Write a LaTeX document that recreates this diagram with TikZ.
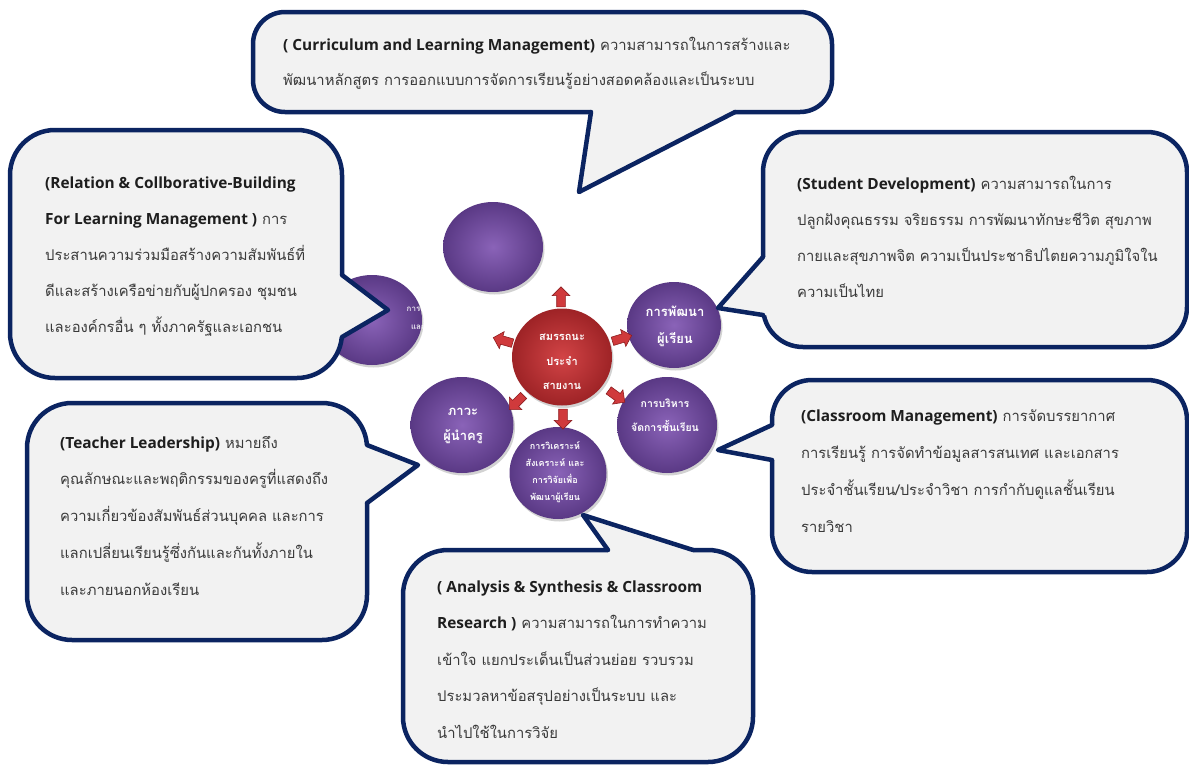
\documentclass[tikz,border=0pt]{standalone}
\usepackage{fontspec}
\newfontfamily\thai[Script=Thai]{Loma}
\newfontfamily\eng{Open Sans}
\usetikzlibrary{shapes.geometric,shapes.arrows,shadows}
\definecolor{navy}{HTML}{0B2461}
\definecolor{boxfill}{HTML}{F2F2F2}
\definecolor{txtgray}{HTML}{3A3A3A}
\definecolor{txtdark}{HTML}{1E1E1E}
\definecolor{purpin}{HTML}{8A63B8}
\definecolor{purpout}{HTML}{5A3985}
\definecolor{redin}{HTML}{D24446}
\definecolor{redout}{HTML}{9E2326}
\definecolor{arrred}{HTML}{D03A3C}
\definecolor{arrdark}{HTML}{8E1D1F}
\tikzset{
  callbox/.style={draw=navy, line width=4.5pt, fill=boxfill, inner sep=0pt},
  callfill/.style={fill=boxfill},
  callline/.style={draw=navy, line width=4.5pt, line cap=round, line join=round},
  calltext/.style={anchor=base west, align=left, inner sep=0pt, text=txtgray},
  bubble/.style={ellipse, inner sep=0pt, shading=radial, inner color=purpin, outer color=purpout,
    drop shadow={shadow xshift=1.5pt, shadow yshift=-2.5pt, opacity=.35}},
  redbubble/.style={ellipse, inner sep=0pt, shading=radial, inner color=redin, outer color=redout,
    drop shadow={shadow xshift=1.5pt, shadow yshift=-2.5pt, opacity=.35}},
  bubtext/.style={align=center, inner sep=0pt, text=white},
  blockarrow/.style={single arrow, draw=arrdark, line width=0.6pt, fill=arrred,
    minimum height=20pt, inner xsep=0pt, inner ysep=4pt, single arrow head extend=4.5pt,
    single arrow head indent=0pt}
}
\newcommand{\tf}[1]{\thai\fontsize{14.8pt}{#1}\selectfont}
\newcommand{\eb}[1]{{\eng\bfseries\fontsize{15.4pt}{15pt}\selectfont\textcolor{txtdark}{#1}}}
\begin{document}
\begin{tikzpicture}[x=1pt,y=-1pt]
\useasboundingbox (0,0) rectangle (1189,766);
\fill[white] (0,0) rectangle (1189,766);

% ---------- bubbles ----------
\node[bubble, minimum width=100pt, minimum height=90pt] (ctop) at (493,247) {};
\node[bubble, minimum width=100pt, minimum height=90pt] (cleft) at (372,320) {};
\node[bubtext, font=\thai\bfseries\fontsize{8pt}{18pt}\selectfont, opacity=.85] (tleft) at (445,327)
  {การสร้างความสัมพันธ์\\และความร่วมมือกับ\\ชุมชน};
\node[redbubble, minimum width=100pt, minimum height=97pt] (ccenter) at (562,357) {};
\node[bubble, minimum width=94pt, minimum height=86pt] (crt) at (674,325) {};
\node[bubble, minimum width=100pt, minimum height=96pt] (crb) at (667,425) {};
\node[bubble, minimum width=97pt, minimum height=92pt] (cbot) at (558,473) {};
\node[bubble, minimum width=103pt, minimum height=96pt] (clb) at (462,425) {};

\node[bubtext, font=\thai\bfseries\fontsize{11pt}{24.5pt}\selectfont] (tcenter) at (562,362) {สมรรถนะ\\ประจำ\\สายงาน};
\node[bubtext, font=\thai\bfseries\fontsize{13pt}{27pt}\selectfont] (trt) at (675,326) {การพัฒนา\\ผู้เรียน};
\node[bubtext, font=\thai\bfseries\fontsize{10.5pt}{24pt}\selectfont] (trb) at (665,415) {การบริหาร\\จัดการชั้นเรียน};
\node[bubtext, font=\thai\bfseries\fontsize{9pt}{17pt}\selectfont] (tbot) at (555,472) {การวิเคราะห์\\สังเคราะห์ และ\\การวิจัยเพื่อ\\พัฒนาผู้เรียน};
\node[bubtext, font=\thai\bfseries\fontsize{13pt}{25pt}\selectfont] (tlb) at (463,426) {ภาวะ\\ผู้นำครู};

% ---------- arrows ----------
\node[blockarrow, rotate=90] (aup) at (561,299) {};
\node[blockarrow, rotate=17] (aru) at (620,339) {};
\node[blockarrow, rotate=164] (alu) at (505,341) {};
\node[blockarrow, rotate=-36] (ard) at (615,395) {};
\node[blockarrow, rotate=-90] (adn) at (563,417) {};
\node[blockarrow, rotate=-135] (ald) at (518,401) {};

% ---------- top callout ----------
\node[callbox, rounded corners=32pt, minimum width=579pt, minimum height=100pt] (topbox) at (542.5,62) {};
\coordinate (topP1) at (591,112); \coordinate (topTip) at (579,192); \coordinate (topP2) at (735,112);
\fill[callfill] ([yshift=5pt]topP1) -- (topP1) -- (topTip) -- (topP2) -- ([yshift=5pt]topP2) -- cycle;
\draw[callline] (topP1) -- (topTip) -- (topP2);
\node[calltext, font=\tf{35pt}] (toptext) at (283,85)
  {\eb{( Curriculum and Learning Management)} ความสามารถในการสร้างและ\\
   พัฒนาหลักสูตร การออกแบบการจัดการเรียนรู้อย่างสอดคล้องและเป็นระบบ};

% ---------- relation callout ----------
\node[callbox, rounded corners=45pt, minimum width=332pt, minimum height=248pt] (relbox) at (176,254) {};
\coordinate (relP1) at (342,275); \coordinate (relTip) at (388,310); \coordinate (relP2) at (342,337);
\fill[callfill] ([xshift=-5pt]relP1) -- (relP1) -- (relTip) -- (relP2) -- ([xshift=-5pt]relP2) -- cycle;
\draw[callline] (relP1) -- (relTip) -- (relP2);
\node[calltext, font=\tf{36pt}] (reltext) at (45,332)
  {\eb{(Relation \& Collborative-Building}\\
   \eb{For Learning Management )} การ\\
   ประสานความร่วมมือสร้างความสัมพันธ์ที่\\
   ดีและสร้างเครือข่ายกับผู้ปกครอง ชุมชน\\
   และองค์กรอื่น ๆ ทั้งภาครัฐและเอกชน};

% ---------- student callout ----------
\node[callbox, rounded corners=40pt, minimum width=424pt, minimum height=215pt] (studbox) at (975,239.5) {};
\coordinate (studP1) at (763,257); \coordinate (studTip) at (718,308); \coordinate (studP2) at (763,315);
\fill[callfill] ([xshift=5pt]studP1) -- (studP1) -- (studTip) -- (studP2) -- ([xshift=5pt]studP2) -- cycle;
\draw[callline] (studP1) -- (studTip) -- (studP2);
\node[calltext, font=\tf{35.7pt}] (studtext) at (797,297)
  {\eb{(Student Development)} ความสามารถในการ\\
   ปลูกฝังคุณธรรม จริยธรรม การพัฒนาทักษะชีวิต สุขภาพ\\
   กายและสุขภาพจิต ความเป็นประชาธิปไตยความภูมิใจใน\\
   ความเป็นไทย};

% ---------- classroom callout ----------
\node[callbox, rounded corners=40pt, minimum width=415pt, minimum height=192pt] (classbox) at (979.5,476) {};
\coordinate (classP1) at (772,425); \coordinate (classTip) at (718,450); \coordinate (classP2) at (772,460);
\fill[callfill] ([xshift=5pt]classP1) -- (classP1) -- (classTip) -- (classP2) -- ([xshift=5pt]classP2) -- cycle;
\draw[callline] (classP1) -- (classTip) -- (classP2);
\node[calltext, font=\tf{36.7pt}] (classtext) at (801,532)
  {\eb{(Classroom Management)} การจัดบรรยากาศ\\
   การเรียนรู้ การจัดทำข้อมูลสารสนเทศ และเอกสาร\\
   ประจำชั้นเรียน/ประจำวิชา การกำกับดูแลชั้นเรียน\\
   รายวิชา};

% ---------- teacher callout ----------
\node[callbox, rounded corners=45pt, minimum width=340pt, minimum height=237pt] (teachbox) at (197,521.5) {};
\coordinate (teachP1) at (367,445); \coordinate (teachTip) at (418,465); \coordinate (teachP2) at (367,503);
\fill[callfill] ([xshift=-5pt]teachP1) -- (teachP1) -- (teachTip) -- (teachP2) -- ([xshift=-5pt]teachP2) -- cycle;
\draw[callline] (teachP1) -- (teachTip) -- (teachP2);
\node[calltext, font=\tf{36.7pt}] (teachtext) at (60,595)
  {\eb{(Teacher Leadership)} หมายถึง\\
   คุณลักษณะและพฤติกรรมของครูที่แสดงถึง\\
   ความเกี่ยวข้องสัมพันธ์ส่วนบุคคล และการ\\
   แลกเปลี่ยนเรียนรู้ซึ่งกันและกันทั้งภายใน\\
   และภายนอกห้องเรียน};

% ---------- analysis callout ----------
\node[callbox, rounded corners=45pt, minimum width=350pt, minimum height=212pt] (analbox) at (578,656) {};
\coordinate (analP1) at (608,550); \coordinate (analTip) at (583,515); \coordinate (analP2) at (693,550);
\fill[callfill] ([yshift=-5pt]analP1) -- (analP1) -- (analTip) -- (analP2) -- ([yshift=-5pt]analP2) -- cycle;
\draw[callline] (analP1) -- (analTip) -- (analP2);
\node[calltext, font=\tf{36.5pt}] (analtext) at (437,738)
  {\eb{( Analysis \& Synthesis \& Classroom}\\
   \eb{Research )} ความสามารถในการทำความ\\
   เข้าใจ แยกประเด็นเป็นส่วนย่อย รวบรวม\\
   ประมวลหาข้อสรุปอย่างเป็นระบบ และ\\
   นำไปใช้ในการวิจัย};
\end{tikzpicture}
\end{document}
